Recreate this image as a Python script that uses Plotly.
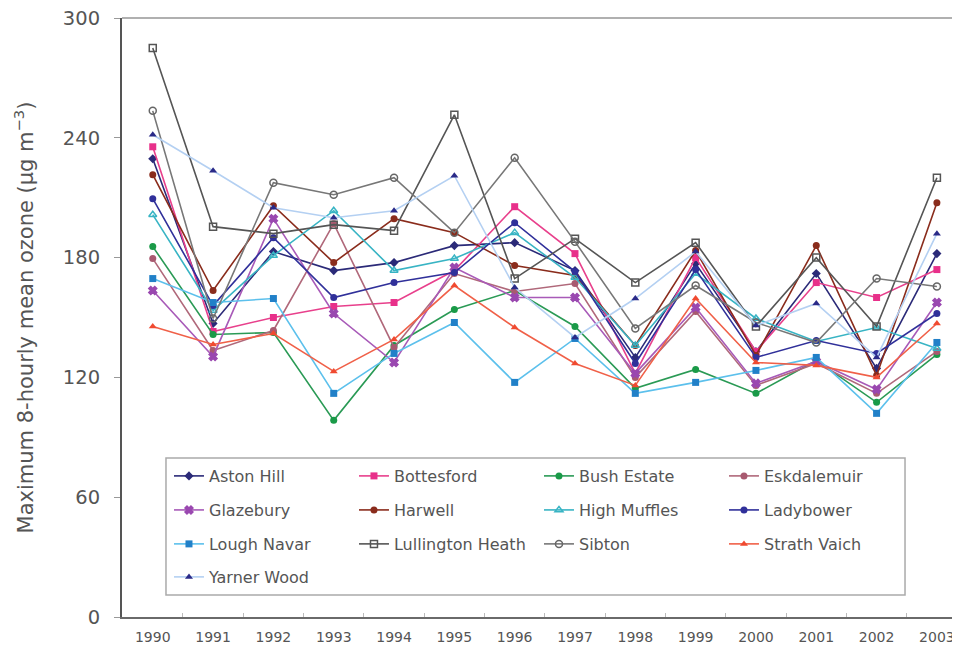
import plotly.graph_objects as go

# Data
years = list(range(1990, 2004))

aston_hill = [229.5, 147, 183, 173.5, 177.5, 186, 187.5, 173.5, 130, 177, 133, 172, 124.5, 182]
bottesford = [235.5, 143, 150, 155.5, 157.5, 173.5, 205.5, 182, 122, 180, 133, 167.5, 160, 174]
bush_estate = [185.5, 141.5, 142.5, 98.5, 136, 154, 163.5, 145.5, 114.5, 124, 112, 128.5, 107.5, 131.5]
eskdalemuir = [179.5, 133.5, 143.5, 197, 135, 172, 163, 167, 120, 153, 116, 127, 112, 133]
glazebury = [163.5, 130.5, 199.5, 152, 127.5, 175, 160, 160, 122, 155, 117, 128, 114, 157.5]
harwell = [221.5, 163.5, 206, 177.5, 199.5, 192.5, 176, 171, 136, 183.5, 131, 186, 121, 207.5]
high_muffles = [201.5, 153.5, 181, 203.5, 173.5, 179.5, 192.5, 170, 136, 172, 149.5, 138, 145, 134.5]
ladybower = [209.5, 156, 190, 160, 167.5, 172.5, 197.5, 173, 127, 174, 130, 138.5, 132, 152]
lough_navar = [169.5, 157.5, 159.5, 112, 132, 147.5, 117.5, 139.5, 112, 117.5, 123.5, 130, 102, 137.5]
lullington_heath = [285, 195.5, 192, 196.5, 193.5, 251.5, 169.5, 189.5, 167.5, 187.5, 145.5, 180, 145.5, 220]
sibton = [253.5, 149.5, 217.5, 211.5, 220, 192.5, 230, 188, 144.5, 166, 147.5, 137.5, 169.5, 165.5]
strath_vaich = [145.5, 136.5, 142, 123, 139, 166, 145, 127, 116, 159.5, 127.5, 126, 120, 147]
yarner_wood = [241.5, 223.5, 205, 200, 203.5, 221, 165, 140, 159.5, 183, 146, 157, 130, 192]

y_ticks = [0, 60, 120, 180, 240, 300]

# name, values, line colour, marker colour, marker symbol
series = [
    ("Aston Hill", aston_hill, "#2b2a78", "#2b2a78", "diamond"),
    ("Bottesford", bottesford, "#e8408c", "#e8308a", "square"),
    ("Bush Estate", bush_estate, "#2a9a55", "#1a9a48", "circle"),
    ("Eskdalemuir", eskdalemuir, "#b0687a", "#a85a70", "circle"),
    ("Glazebury", glazebury, "#a85ab8", "#9a48b0", "x"),
    ("Harwell", harwell, "#8a2c1c", "#8a2c1c", "circle"),
    ("High Muffles", high_muffles, "#38b4c4", "#38b4c4", "triangle-up-open"),
    ("Ladybower", ladybower, "#30309a", "#30309a", "circle"),
    ("Lough Navar", lough_navar, "#5cc0ec", "#2180c8", "square"),
    ("Lullington Heath", lullington_heath, "#555555", "#555555", "square-open"),
    ("Sibton", sibton, "#777777", "#666666", "circle-open"),
    ("Strath Vaich", strath_vaich, "#f06048", "#f04a30", "triangle-up"),
    ("Yarner Wood", yarner_wood, "#b4d0f2", "#2a2a88", "triangle-up"),
]

# one legend per row so the row spacing matches the original
legend_rows = ["legend", "legend2", "legend3", "legend4"]
row_y = [0.2354, 0.1786, 0.1219, 0.0668]

fig = go.Figure()
for i, (name, vals, lcol, mcol, sym) in enumerate(series):
    fig.add_trace(go.Scatter(
        x=years, y=vals, name=name, mode="lines+markers",
        legend=legend_rows[i // 4],
        line=dict(color=lcol, width=1.6),
        marker=dict(color=mcol, symbol=sym, size=7,
                    line=dict(color=mcol, width=1.5 if "open" in sym or sym == "x" else 0)),
    ))

fig.update_xaxes(
    range=[1989.49, 2003.3], tickmode="array", tickvals=years,
    showgrid=False, zeroline=False, automargin=False,
    showline=True, linecolor="#6a6a6a", linewidth=2,
    ticks="", ticklabelstandoff=6, ticklabeloverflow="allow",
    tickfont=dict(family="DejaVu Sans", size=14, color="#555555"),
    minor=dict(tickvals=[y + 0.5 for y in years[:-1]], ticks="inside",
               ticklen=4, tickcolor="#bbbbbb"),
)
fig.update_yaxes(
    range=[0, 300], tickmode="array", tickvals=y_ticks,
    showgrid=False, zeroline=False, automargin=False,
    showline=True, linecolor="#555555", linewidth=2,
    ticks="outside", ticklen=6, tickcolor="#999999", ticklabelstandoff=10,
    ticklabeloverflow="allow",
    tickfont=dict(family="DejaVu Sans", size=19.5, color="#555555"),
    title=dict(text="Maximum 8-hourly mean ozone (µg m<sup>−3</sup>)",
               font=dict(family="DejaVu Sans", size=21, color="#555555"), standoff=24),
)

legend_style = dict(
    orientation="h", x=0.0564, xanchor="left", yanchor="middle",
    entrywidth=140, entrywidthmode="pixels", itemwidth=30,
    bgcolor="rgba(0,0,0,0)", borderwidth=0,
    font=dict(family="DejaVu Sans", size=16, color="#555555"),
)
fig.update_layout(
    width=952, height=655,
    margin=dict(l=114, r=5, t=10, b=46),
    plot_bgcolor="white", paper_bgcolor="white",
    font=dict(family="DejaVu Sans"),
    showlegend=True,
    legend=dict(legend_style, y=row_y[0]),
    legend2=dict(legend_style, y=row_y[1]),
    legend3=dict(legend_style, y=row_y[2]),
    legend4=dict(legend_style, y=row_y[3]),
    shapes=[
        # legend frame
        dict(type="rect", xref="paper", yref="paper",
             x0=0.0528, x1=0.940, y0=0.0367, y1=0.2654,
             line=dict(color="#aaaaaa", width=1.5), fillcolor="white", layer="above"),
        # lighter top border of the plot box
        dict(type="line", xref="paper", yref="paper", x0=0, x1=1, y0=1, y1=1,
             line=dict(color="#b0b0b0", width=2)),
    ],
)

fig.write_html("out.html")
